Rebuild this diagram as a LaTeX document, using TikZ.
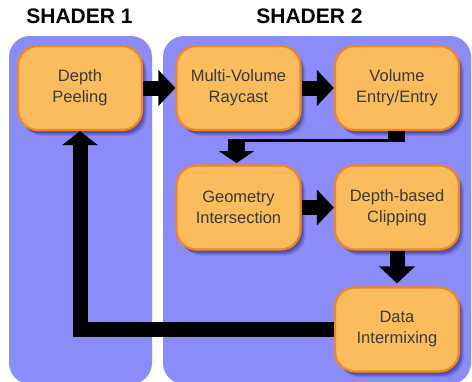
\documentclass[tikz,border=0pt]{standalone}
\usepackage{fontspec}
\setmainfont{Liberation Sans}
\usetikzlibrary{arrows.meta,shadows}
\definecolor{panelc}{RGB}{138,140,250}
\definecolor{boxfill}{RGB}{250,188,92}
\definecolor{boxline}{RGB}{247,132,28}
\definecolor{txtc}{RGB}{58,58,58}
\definecolor{shadc}{RGB}{40,40,120}
\tikzset{
  panel/.style={fill=panelc, draw=none, rounded corners=21pt},
  stagebox/.style={draw=boxline, fill=boxfill, line width=2.2pt, rounded corners=20pt,
    minimum width=124pt, minimum height=84pt, align=center, text=txtc,
    font=\fontsize{16.5}{21}\selectfont,
    general shadow={shadow xshift=5pt, shadow yshift=-6pt, opacity=0.15, fill=shadc},
    general shadow={shadow xshift=3.5pt, shadow yshift=-4.5pt, opacity=0.3, fill=shadc},
    general shadow={shadow xshift=2pt, shadow yshift=-3pt, opacity=0.3, fill=shadc}},
  title/.style={font=\fontsize{21}{25}\selectfont\bfseries, text=black},
  blk/.style={draw=black, line width=15pt, line join=miter,
    -{Triangle[length=17pt 0, width=35pt 0]}},
}
\begin{document}
\begin{tikzpicture}[x=1pt,y=-1pt]
\useasboundingbox (0,0) rectangle (472,381);
% panels
\fill[panel] (9,36) rectangle (152,384);
\fill[panel] (163,36) rectangle (471,384);
% titles
\node[title] (t1) at (79.5,16) {SHADER 1};
\node[title] (t2) at (309.5,16) {SHADER 2};
% boxes
\node[stagebox] (peel) at (80,88) {Depth\\Peeling};
\node[stagebox] (mv) at (238.5,88) {Multi-Volume\\Raycast};
\node[stagebox] (ve) at (397,88) {Volume\\Entry/Entry};
\node[stagebox] (geo) at (238.5,207.5) {Geometry\\Intersection};
\node[stagebox] (clip) at (397,207.5) {Depth-based\\Clipping};
\node[stagebox] (data) at (397,329.5) {Data\\Intermixing};
% connectors
\draw[blk] (peel.east) -- (mv.west);
\draw[blk] (mv.east) -- (ve.west);
\draw[blk] (geo.east) -- (clip.west);
\draw[blk, shorten >=3pt] (clip.south) -- (data.north);
\draw[blk, -{Triangle[length=14pt 0, width=35pt 0]}] (data.west) -| (peel.south);
% Volume Entry -> Geometry
\coordinate (c1) at (405,140.5);
\coordinate (c2) at (228,140.5);
\coordinate (c3) at (236.5,139);
\coordinate (c4) at (236.5,163);
\draw[line width=17pt] ([xshift=-0.5pt]ve.south) -- ++(0,11);
\draw[line width=3pt] (c1) -- (c2);
\draw[line width=17pt, -{Triangle[length=12pt 0, width=35pt 0]}] (c3) -- (c4);
\end{tikzpicture}
\end{document}
